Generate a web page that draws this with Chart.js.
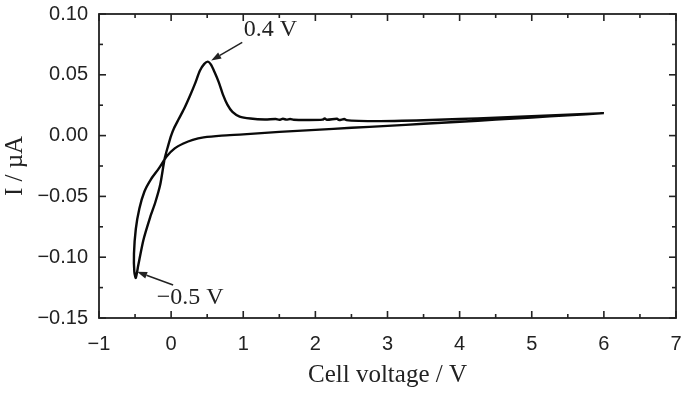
<!DOCTYPE html>
<html>
<head>
<meta charset="utf-8">
<script src="https://cdn.jsdelivr.net/npm/chart.js@4/dist/chart.umd.min.js"></script>
<style>
  html, body { margin: 0; padding: 0; background: #fff; }
  #wrap { width: 687px; height: 394px; position: relative; }
</style>
</head>
<body>
<div id="wrap"><canvas id="cv"></canvas></div>
<script>
// cyclic voltammogram: upper branch 6 V -> -0.5 V, then lower branch back to 6 V
const VOLTAGE = [
    6.0, 5.5, 5.0, 4.5, 4.0, 3.6, 3.2, 2.9, 2.6, 2.43, 2.4, 2.33, 2.3, 2.16, 2.13, 2.1,
    1.9, 1.7, 1.65, 1.6, 1.55, 1.5, 1.45, 1.3, 1.1, 0.95, 0.85, 0.78, 0.72, 0.66,
    0.6, 0.55, 0.51, 0.46, 0.40, 0.33, 0.26, 0.18, 0.10, 0.04, 0.0, -0.04, -0.09,
    -0.15, -0.22, -0.29, -0.385, -0.455, -0.49,
    -0.51, -0.515, -0.49, -0.44, -0.37, -0.28, -0.17, -0.06, 0.05, 0.17, 0.30,
    0.45, 0.7, 1.0, 1.5, 2.0, 2.5, 3.0, 3.5, 4.0, 4.5, 5.0, 5.5, 6.0
];
const CURRENT = [
    0.0185, 0.0172, 0.0160, 0.0147, 0.0137, 0.0128, 0.0122, 0.0119, 0.0121, 0.0127, 0.0136, 0.0128, 0.0138, 0.0130, 0.0142, 0.0131,
    0.0128, 0.0130, 0.0137, 0.0131, 0.0138, 0.0130, 0.0136, 0.0133, 0.0141, 0.0157, 0.0195, 0.0255, 0.0335, 0.0440,
    0.0525, 0.0585, 0.0608, 0.0590, 0.0535, 0.0425, 0.0325, 0.0220, 0.0130, 0.0060, 0.0000, -0.0080, -0.0190,
    -0.0400, -0.0550, -0.0670, -0.0860, -0.1065, -0.1170,
    -0.1120, -0.0970, -0.0770, -0.0600, -0.0460, -0.0360, -0.0270, -0.0170, -0.0105, -0.0065, -0.0035,
    -0.0015, 0.0000, 0.0010, 0.0031, 0.0047, 0.0064, 0.0080, 0.0097, 0.0114, 0.0131, 0.0149, 0.0167, 0.0185
];

const X_TICKS = [-1, 0, 1, 2, 3, 4, 5, 6, 7];
const Y_TICKS = [-0.15, -0.10, -0.05, 0.00, 0.05, 0.10];

// labels with arrows: text position and arrow tail/tip in data units
const NOTES = [
    { text: '0.4 V', at: [1.375, 0.0868], from: [0.986, 0.0766], to: [0.556, 0.0618] },
    { text: '\u22120.5 V', at: [0.264, -0.1335], from: [0.028, -0.1228], to: [-0.472, -0.112] },
];

const fmt = (v, d) => {
    if (Math.abs(v) < 1e-9) v = 0;
    const s = Math.abs(v).toFixed(d);
    return v < 0 ? '\u2212' + s : s;
};

const frameTicks = {
    id: 'frameTicks',
    afterDraw(chart) {
        const { ctx, chartArea: a, scales } = chart;
        const x = scales.x, y = scales.y;
        ctx.save();
        ctx.strokeStyle = '#222';
        ctx.lineWidth = 1.8;
        ctx.strokeRect(a.left, a.top, a.right - a.left, a.bottom - a.top);

        ctx.lineWidth = 1.6;
        const tick = (px, py, dx, dy) => {
            ctx.beginPath();
            ctx.moveTo(px, py);
            ctx.lineTo(px + dx, py + dy);
            ctx.stroke();
        };
        X_TICKS.forEach((v, i) => {
            const px = x.getPixelForValue(v);
            tick(px, a.bottom, 0, -7);
            tick(px, a.top, 0, 7);
            if (i < X_TICKS.length - 1) {
                const pm = x.getPixelForValue((v + X_TICKS[i + 1]) / 2);
                tick(pm, a.bottom, 0, -4);
                tick(pm, a.top, 0, 4);
            }
        });
        Y_TICKS.forEach((v, i) => {
            const py = y.getPixelForValue(v);
            tick(a.left, py, 7, 0);
            tick(a.right, py, -7, 0);
            if (i < Y_TICKS.length - 1) {
                const pm = y.getPixelForValue((v + Y_TICKS[i + 1]) / 2);
                tick(a.left, pm, 4, 0);
                tick(a.right, pm, -4, 0);
            }
        });

        // annotations
        ctx.fillStyle = '#222';
        ctx.font = '24px "Liberation Serif", "Times New Roman", serif';
        ctx.textAlign = 'center';
        ctx.textBaseline = 'middle';
        NOTES.forEach(n => {
            ctx.fillText(n.text, x.getPixelForValue(n.at[0]), y.getPixelForValue(n.at[1]));
            const x0 = x.getPixelForValue(n.from[0]), y0 = y.getPixelForValue(n.from[1]);
            const x1 = x.getPixelForValue(n.to[0]), y1 = y.getPixelForValue(n.to[1]);
            const ang = Math.atan2(y1 - y0, x1 - x0);
            const hl = 10, hw = 3.5;
            const bx = x1 - hl * Math.cos(ang), by = y1 - hl * Math.sin(ang);
            ctx.lineWidth = 1.5;
            ctx.beginPath();
            ctx.moveTo(x0, y0);
            ctx.lineTo(bx, by);
            ctx.stroke();
            ctx.beginPath();
            ctx.moveTo(x1, y1);
            ctx.lineTo(bx + hw * Math.sin(ang), by - hw * Math.cos(ang));
            ctx.lineTo(bx - hw * Math.sin(ang), by + hw * Math.cos(ang));
            ctx.closePath();
            ctx.fill();
        });
        ctx.restore();
    }
};

const tickFont = { family: '"Liberation Sans", Arial, sans-serif', size: 20 };
const titleFont = { family: '"Liberation Serif", "Times New Roman", serif', size: 25 };

new Chart(document.getElementById('cv').getContext('2d'), {
    type: 'scatter',
    data: {
        datasets: [{
            data: VOLTAGE.map((v, i) => ({ x: v, y: CURRENT[i] })),
            showLine: true,
            borderColor: '#0a0a0a',
            borderWidth: 2.4,
            pointRadius: 0,
            tension: 0.25,
            fill: false,
        }]
    },
    options: {
        responsive: true,
        maintainAspectRatio: false,
        animation: false,
        layout: { padding: { left: 0, right: 11, top: 14, bottom: 0 } },
        scales: {
            x: {
                type: 'linear',
                min: -1,
                max: 7,
                afterBuildTicks: s => { s.ticks = X_TICKS.map(v => ({ value: v })); },
                afterFit: s => { s.height = 76; s.paddingLeft = 0; s.paddingRight = 0; },
                grid: { display: false, drawTicks: false },
                border: { display: false },
                ticks: { color: '#222', font: tickFont, padding: 14, maxRotation: 0, callback: v => fmt(v, 0) },
                title: { display: true, text: 'Cell voltage / V', color: '#222', font: titleFont, padding: { top: 0, bottom: 4 } },
            },
            y: {
                type: 'linear',
                min: -0.15,
                max: 0.10,
                afterBuildTicks: s => { s.ticks = Y_TICKS.map(v => ({ value: v })); },
                afterFit: s => { s.width = 99; s.paddingTop = 0; s.paddingBottom = 0; },
                grid: { display: false, drawTicks: false },
                border: { display: false },
                ticks: { color: '#222', font: tickFont, padding: 11, callback: v => fmt(v, 2) },
                title: { display: true, text: 'I / \u00b5A', color: '#222', font: titleFont, padding: 0 },
            }
        },
        plugins: {
            legend: { display: false },
            tooltip: { enabled: false },
        }
    },
    plugins: [frameTicks]
});
</script>
</body>
</html>
